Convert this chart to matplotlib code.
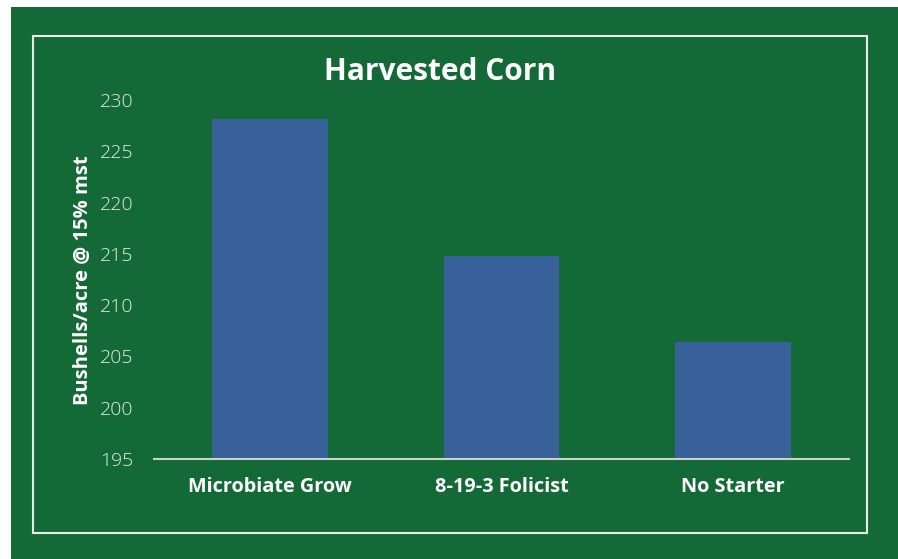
import matplotlib.pyplot as plt
from matplotlib.patches import Rectangle

categories = ['Microbiate Grow', '8-19-3 Folicist', 'No Starter']
yields = [228.1, 214.8, 206.4]
yticks = [195, 200, 205, 210, 215, 220, 225, 230]

green = '#146a37'
bar_color = '#386099'

plt.rcParams['font.family'] = ['Open Sans', 'DejaVu Sans']

fig = plt.figure(figsize=(8.98, 5.59), dpi=100, facecolor='white')

# green panel and white inner frame
fig.patches.append(Rectangle((11 / 898, 0), 1, 1 - 7 / 559, transform=fig.transFigure,
                             facecolor=green, edgecolor='none', zorder=-10))
fig.patches.append(Rectangle((33 / 898, 1 - 533 / 559), (867 - 33) / 898, (533 - 36) / 559,
                             transform=fig.transFigure, facecolor='none',
                             edgecolor='#e8ece8', linewidth=1.5, zorder=-9))

ax = fig.add_axes([154 / 898, 1 - 459 / 559, 695 / 898, 359 / 559])
ax.set_facecolor('none')
ax.bar(range(len(categories)), yields, width=0.5, color=bar_color, zorder=2)

ax.set_xlim(-0.5, 2.5)
ax.set_ylim(195, 230)
ax.set_yticks(yticks)
ax.set_xticks(range(len(categories)))
ax.set_xticklabels(categories, fontsize=14.3, fontweight='bold', color='white')
for lbl in ax.get_yticklabels():
    lbl.set_fontsize(14)
    lbl.set_color('#e6ece6')
    lbl.set_fontweight('light')
ax.tick_params(axis='both', length=0)
ax.tick_params(axis='y', pad=15)
ax.tick_params(axis='x', pad=13)

for s in ['top', 'right', 'left']:
    ax.spines[s].set_visible(False)
ax.spines['bottom'].set_color('#c8d2c8')
ax.spines['bottom'].set_linewidth(1.5)

fig.text(83 / 898, 1 - 280 / 559, 'Bushells/acre @ 15% mst', rotation=90,
         ha='center', va='center', fontsize=14.5, fontweight='bold', color='white')
fig.text(440 / 898, 1 - 72 / 559, 'Harvested Corn', ha='center', va='center',
         fontsize=21.5, fontweight='bold', color='white')

fig.savefig('out.png', dpi=100, facecolor=fig.get_facecolor())
